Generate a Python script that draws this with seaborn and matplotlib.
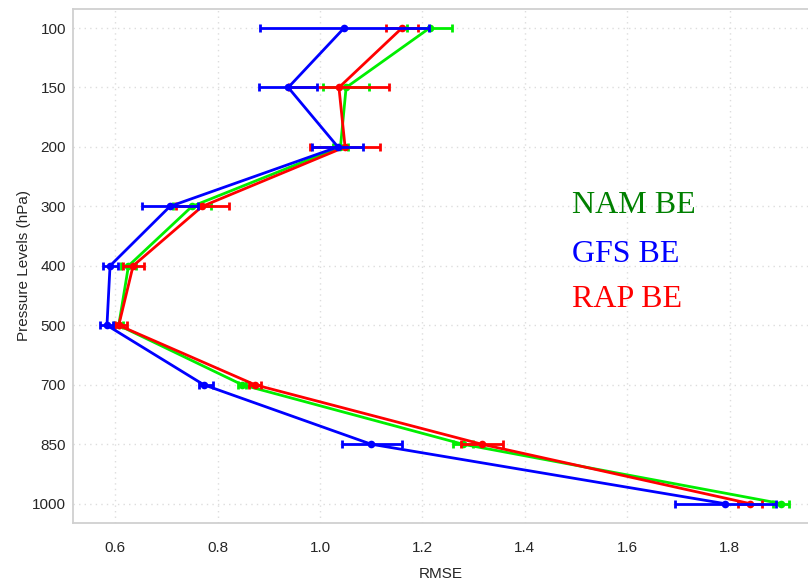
import numpy as np
import pandas as pd
import matplotlib
matplotlib.use("Agg")
import matplotlib.pyplot as plt
import seaborn as sns

# pressure levels (top to bottom) and RMSE per background-error model
levels = [100, 150, 200, 300, 400, 500, 700, 850, 1000]

nam_rmse = [1.214, 1.051, 1.040, 0.750, 0.626, 0.607, 0.848, 1.279, 1.901]
nam_lo = [1.170, 1.006, 1.025, 0.712, 0.611, 0.598, 0.840, 1.260, 1.885]
nam_hi = [1.258, 1.096, 1.055, 0.788, 0.641, 0.616, 0.856, 1.298, 1.916]

gfs_rmse = [1.047, 0.938, 1.035, 0.707, 0.590, 0.584, 0.773, 1.100, 1.791]
gfs_lo = [0.883, 0.881, 0.984, 0.652, 0.576, 0.570, 0.764, 1.043, 1.693]
gfs_hi = [1.213, 0.994, 1.084, 0.762, 0.605, 0.596, 0.791, 1.160, 1.891]

rap_rmse = [1.160, 1.037, 1.049, 0.770, 0.635, 0.607, 0.873, 1.316, 1.840]
rap_lo = [1.129, 0.940, 0.980, 0.718, 0.615, 0.600, 0.861, 1.275, 1.816]
rap_hi = [1.191, 1.135, 1.117, 0.822, 0.656, 0.623, 0.885, 1.357, 1.863]

sns.set_style("whitegrid")
plt.rcParams['font.family'] = ['Liberation Sans', 'DejaVu Sans']

fig = plt.figure(figsize=(8.08, 5.82), dpi=100)
ax = fig.add_axes([0.0903, 0.1019, 0.9097, 0.8826])

pos = np.arange(len(levels))
series = [
    ("NAM BE", nam_rmse, nam_lo, nam_hi, "#00ee00", "green"),
    ("RAP BE", rap_rmse, rap_lo, rap_hi, "#ff0000", "red"),
    ("GFS BE", gfs_rmse, gfs_lo, gfs_hi, "#0000ff", "blue"),
]

for name, vals, lo, hi, lc, tc in series:
    df = pd.DataFrame({"rmse": vals, "pos": pos})
    sns.lineplot(data=df, x="rmse", y="pos", sort=False, orient="y", ax=ax,
                 color=lc, linewidth=2.0, marker="o", markersize=5.5,
                 markeredgewidth=0, estimator=None)
    vals = np.array(vals)
    xerr = [vals - np.array(lo), np.array(hi) - vals]
    ax.errorbar(vals, pos, xerr=xerr, fmt="none", ecolor=lc, elinewidth=2.0,
                capsize=3, capthick=2.0)

# legend as coloured labels
ax.text(0.679, 0.603, "NAM BE", transform=ax.transAxes, color="green",
        fontsize=23, family="Liberation Serif")
ax.text(0.679, 0.507, "GFS BE", transform=ax.transAxes, color="blue",
        fontsize=23, family="Liberation Serif")
ax.text(0.679, 0.420, "RAP BE", transform=ax.transAxes, color="red",
        fontsize=23, family="Liberation Serif")

ax.set_yticks(pos)
ax.set_yticklabels([str(l) for l in levels])
ax.set_xticks([0.6, 0.8, 1.0, 1.2, 1.4, 1.6, 1.8])
ax.set_xlim(0.5176, 1.953)
ax.set_ylim(8.32, -0.32)

ax.grid(True, color="#dddddd", linestyle=(0, (1, 3)), linewidth=1.0)
ax.spines["right"].set_visible(False)
for side in ["left", "bottom", "top"]:
    ax.spines[side].set_color("#d0d0d0")
    ax.spines[side].set_linewidth(1.3)

ax.tick_params(axis="y", length=3, color="#cccccc", pad=2, labelsize=11)
ax.tick_params(axis="x", length=0, pad=13, labelsize=11)
ax.set_xlabel("RMSE", fontsize=11, labelpad=9)
ax.set_ylabel("Pressure Levels (hPa)", fontsize=11, labelpad=1)

fig.savefig("out.png", dpi=100)
